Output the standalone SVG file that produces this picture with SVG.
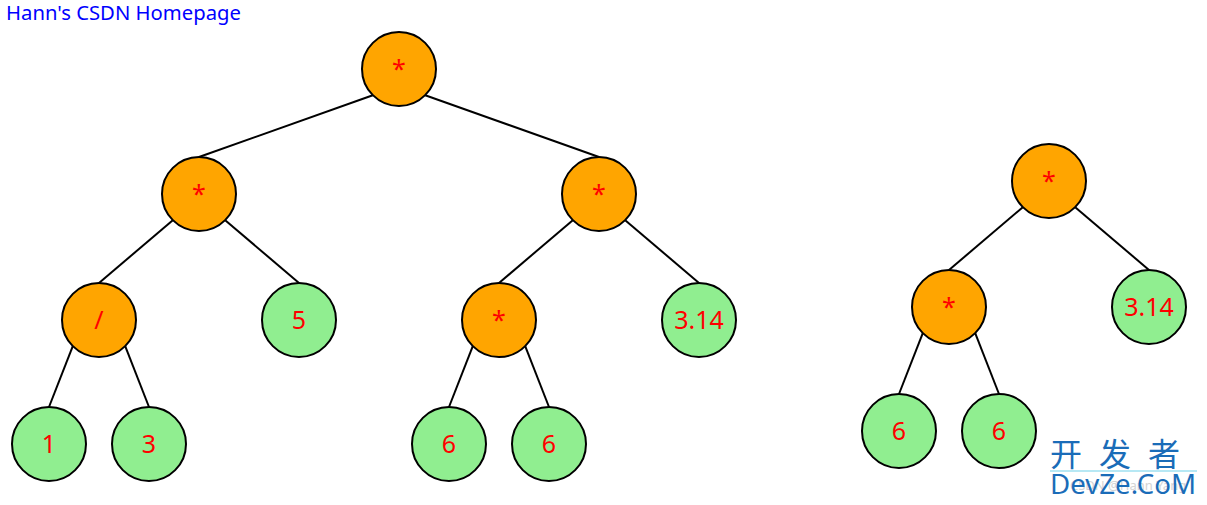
<svg xmlns="http://www.w3.org/2000/svg" width="1207" height="505" viewBox="0 0 1207 505">
<style>
.op{fill:#FFA500;stroke:#000;stroke-width:2}
.num{fill:#90EE90;stroke:#000;stroke-width:2}
.lbl{font-family:"Noto Sans","DejaVu Sans",sans-serif;font-size:25px;fill:#FF0000;text-anchor:middle}
.edge{stroke:#000;stroke-width:2;fill:none}
</style>
<rect width="1207" height="505" fill="#fff"/>
<text x="6" y="20" font-family="Noto Sans, DejaVu Sans, sans-serif" font-size="19" fill="#0000FF" textLength="235" lengthAdjust="spacingAndGlyphs">Hann's CSDN Homepage</text>
<g id="connectors">
<line class="edge" x1="372.8" y1="95.2" x2="199" y2="157"/>
<line class="edge" x1="425.2" y1="95.2" x2="599" y2="157"/>
<line class="edge" x1="172.8" y1="220.2" x2="99" y2="283"/>
<line class="edge" x1="225.2" y1="220.2" x2="299" y2="283"/>
<line class="edge" x1="572.8" y1="220.2" x2="499" y2="283"/>
<line class="edge" x1="625.2" y1="220.2" x2="699" y2="283"/>
<line class="edge" x1="72.8" y1="346.2" x2="49" y2="407"/>
<line class="edge" x1="125.2" y1="346.2" x2="149" y2="407"/>
<line class="edge" x1="472.8" y1="346.2" x2="449" y2="407"/>
<line class="edge" x1="525.2" y1="346.2" x2="549" y2="407"/>
<line class="edge" x1="1022.8" y1="207.2" x2="949" y2="270"/>
<line class="edge" x1="1075.2" y1="207.2" x2="1149" y2="270"/>
<line class="edge" x1="922.8" y1="333.2" x2="899" y2="394"/>
<line class="edge" x1="975.2" y1="333.2" x2="999" y2="394"/>
</g>
<g id="n1"><circle class="op" cx="399" cy="69" r="37"/><text class="lbl" x="399" y="78">*</text></g>
<g id="n2"><circle class="op" cx="199" cy="194" r="37"/><text class="lbl" x="199" y="203">*</text></g>
<g id="n3"><circle class="op" cx="599" cy="194" r="37"/><text class="lbl" x="599" y="203">*</text></g>
<g id="n4"><circle class="op" cx="99" cy="320" r="37"/><text class="lbl" x="99" y="329">/</text></g>
<g id="n5"><circle class="num" cx="299" cy="320" r="37"/><text class="lbl" x="299" y="329">5</text></g>
<g id="n6"><circle class="op" cx="499" cy="320" r="37"/><text class="lbl" x="499" y="329">*</text></g>
<g id="n7"><circle class="num" cx="699" cy="320" r="37"/><text class="lbl" x="699" y="329">3.14</text></g>
<g id="n8"><circle class="num" cx="49" cy="444" r="37"/><text class="lbl" x="49" y="453">1</text></g>
<g id="n9"><circle class="num" cx="149" cy="444" r="37"/><text class="lbl" x="149" y="453">3</text></g>
<g id="n10"><circle class="num" cx="449" cy="444" r="37"/><text class="lbl" x="449" y="453">6</text></g>
<g id="n11"><circle class="num" cx="549" cy="444" r="37"/><text class="lbl" x="549" y="453">6</text></g>
<g id="m1"><circle class="op" cx="1049" cy="181" r="37"/><text class="lbl" x="1049" y="190">*</text></g>
<g id="m2"><circle class="op" cx="949" cy="307" r="37"/><text class="lbl" x="949" y="316">*</text></g>
<g id="m3"><circle class="num" cx="1149" cy="307" r="37"/><text class="lbl" x="1149" y="316">3.14</text></g>
<g id="m4"><circle class="num" cx="899" cy="431" r="37"/><text class="lbl" x="899" y="440">6</text></g>
<g id="m5"><circle class="num" cx="999" cy="431" r="37"/><text class="lbl" x="999" y="440">6</text></g>
<g id="watermark">
<text x="1070" y="490" font-family="Noto Sans, sans-serif" font-size="13" fill="#d4d4d4">CSDN @Hann Yang</text>
<text x="1050" y="466" font-family="Noto Sans CJK SC, sans-serif" font-size="32" fill="#1a6cb8" letter-spacing="17">开发者</text>
<line x1="1050" y1="471" x2="1197" y2="471" stroke="#9fe0f0" stroke-width="1.5"/>
<text x="1050" y="494" font-family="Noto Sans, sans-serif" font-size="27" fill="#1a6cb8" textLength="146" lengthAdjust="spacingAndGlyphs">DevZe.CoM</text>
</g>
</svg>
